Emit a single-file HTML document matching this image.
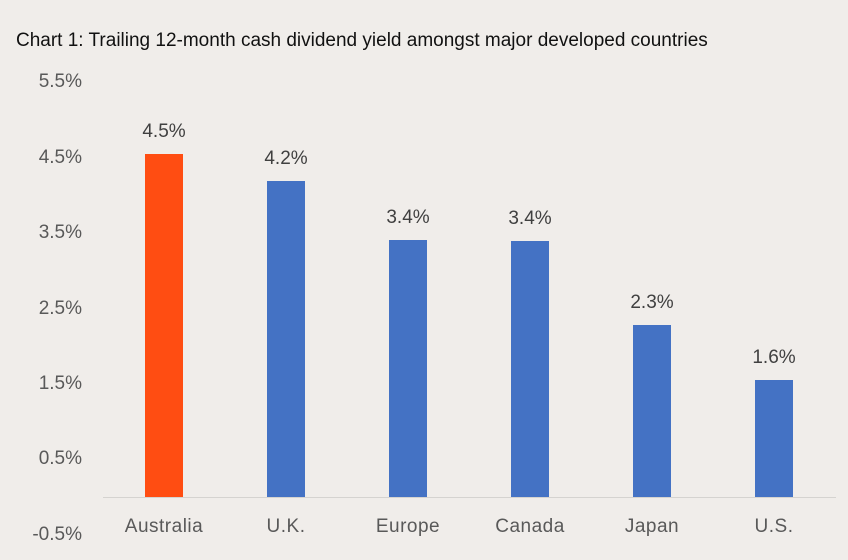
<!DOCTYPE html>
<html><head><style>
body{margin:0;width:848px;height:560px;background:#f0edea;font-family:"Liberation Sans",sans-serif;position:relative;overflow:hidden}
.t{position:absolute;white-space:nowrap}
.y{position:absolute;left:10px;width:72px;text-align:right;font-size:19px;color:#595959;line-height:20px}
.b{position:absolute;width:38px;bottom:63px}
.v{position:absolute;width:100px;text-align:center;font-size:19px;color:#404040;line-height:20px}
.c{position:absolute;width:140px;text-align:center;font-size:19px;color:#595959;top:517px;line-height:20px;letter-spacing:0.5px}
</style></head><body>
<div class="t" style="left:16px;top:30px;font-size:19px;color:#111;">Chart 1: Trailing 12-month cash dividend yield amongst major developed countries</div>
<div class="y" style="top:72px">5.5%</div>
<div class="y" style="top:148px">4.5%</div>
<div class="y" style="top:223px">3.5%</div>
<div class="y" style="top:299px">2.5%</div>
<div class="y" style="top:374px">1.5%</div>
<div class="y" style="top:449px">0.5%</div>
<div class="y" style="top:525px">-0.5%</div>
<div style="position:absolute;left:103px;top:497px;width:733px;height:1px;background:#d5d3d0"></div>
<div class="b" style="left:145px;top:154px;background:#ff4d12"></div>
<div class="b" style="left:267px;top:181px;background:#4472c4"></div>
<div class="b" style="left:389px;top:240px;background:#4472c4"></div>
<div class="b" style="left:511px;top:241px;background:#4472c4"></div>
<div class="b" style="left:633px;top:325px;background:#4472c4"></div>
<div class="b" style="left:755px;top:380px;background:#4472c4"></div>
<div class="v" style="left:114px;top:122px">4.5%</div>
<div class="v" style="left:236px;top:149px">4.2%</div>
<div class="v" style="left:358px;top:208px">3.4%</div>
<div class="v" style="left:480px;top:209px">3.4%</div>
<div class="v" style="left:602px;top:293px">2.3%</div>
<div class="v" style="left:724px;top:348px">1.6%</div>
<div class="c" style="left:94px">Australia</div>
<div class="c" style="left:216px">U.K.</div>
<div class="c" style="left:338px">Europe</div>
<div class="c" style="left:460px">Canada</div>
<div class="c" style="left:582px">Japan</div>
<div class="c" style="left:704px">U.S.</div>
</body></html>
